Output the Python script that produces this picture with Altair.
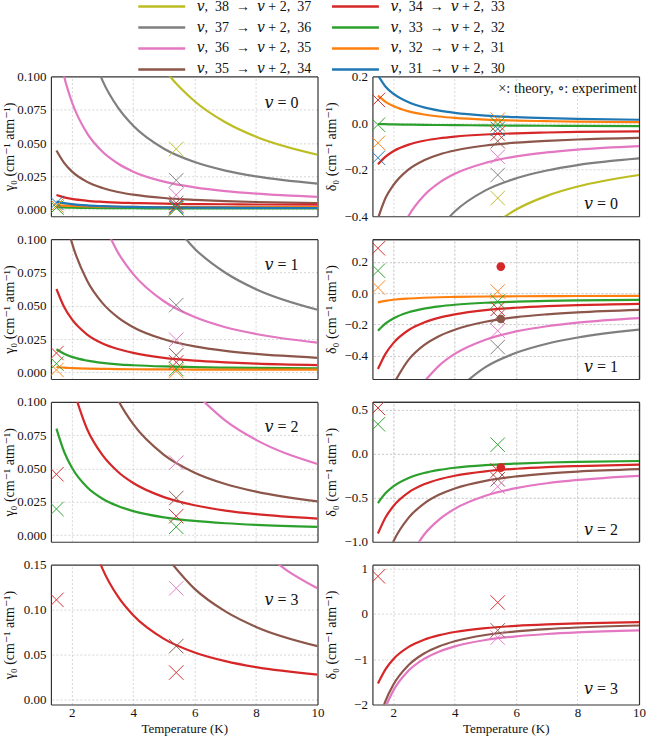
import altair as alt
import pandas as pd

SERIF = "Liberation Serif, DejaVu Serif, Times New Roman, serif"
N = None

# temperature grid (K) on which the curves were read
T_GRID = [1.5, 1.75, 2, 2.5, 3, 3.5, 4, 5, 6, 7, 8, 9, 10]

# transition "v, n -> v+2, n-1" keyed by n
COLORS = {38: "#bcbd22", 37: "#7f7f7f", 36: "#e377c2", 35: "#8c564b",
          34: "#d62728", 33: "#2ca02c", 32: "#ff7f0e", 31: "#1f77b4"}
LEGEND_ORDER = [38, 37, 36, 35, 34, 33, 32, 31]


def lab(n):
    return f"\U0001D463,\u2002{n}\u2002\u2192\u2002\U0001D463 + 2,\u2002{n - 1}"


# ---- gamma_0 curves (cm^-1 atm^-1) ----
GAMMA_V0 = {
    38: [N, N, N, N, N, N, 0.149, 0.106, 0.0814, 0.0656, 0.0547, N, 0.0412],
    37: [N, N, N, 0.1286, 0.0969, 0.0767, 0.0629, 0.0457, 0.0357, 0.0293, 0.0249, N, 0.0195],
    36: [0.128, 0.100, 0.081, 0.0572, 0.0434, 0.0346, 0.0285, 0.0210, 0.0167, 0.0139, 0.0120, N, 0.0096],
    35: [0.0444, 0.0351, 0.0287, 0.0208, 0.0162, 0.0132, 0.0112, 0.0087, 0.0073, 0.0063, 0.0057, N, 0.0049],
    34: [0.0109, 0.0092, 0.0080, 0.0066, 0.0058, 0.0052, 0.0049, 0.0044, 0.0041, 0.0040, 0.0038, N, 0.0037],
    33: [0.0018, 0.0016, 0.0014, 0.0012, 0.0011, 0.0010, 0.0010, 0.0009, 0.0009, 0.0008, 0.0008, N, 0.0008],
    32: [0.0032, 0.0029, 0.0027, 0.0024, 0.0022, 0.0021, 0.0020, 0.0019, 0.0019, 0.0018, 0.0018, N, 0.0018],
    31: [0.0060, 0.0049, 0.0041, 0.0031, 0.0026, 0.0022, 0.0020, 0.0017, 0.0015, 0.0014, 0.0013, N, 0.0012],
}
GAMMA_V1 = {
    37: [N, N, N, N, N, N, N, 0.121, 0.0929, 0.0748, 0.0624, N, 0.047],
    36: [N, N, N, N, 0.114, 0.0901, 0.0738, 0.0534, 0.0415, 0.0339, 0.0288, N, 0.0223],
    35: [N, 0.121, 0.0976, 0.0688, 0.052, 0.0413, 0.0339, 0.0248, 0.0195, 0.0161, 0.0138, N, 0.0109],
    34: [0.0626, 0.0491, 0.0399, 0.0284, 0.0217, 0.0175, 0.0146, 0.0109, 0.0088, 0.0075, 0.0065, N, 0.0054],
    33: [0.0173, 0.0139, 0.0116, 0.0088, 0.0071, 0.0060, 0.0053, 0.0044, 0.0039, 0.0035, 0.0033, N, 0.0030],
    32: [0.0040, 0.0035, 0.0032, 0.0028, 0.0026, 0.0024, 0.0023, 0.0022, 0.0021, 0.0021, 0.0020, N, 0.0020],
}
GAMMA_V2 = {
    36: [N, N, N, N, N, N, N, N, 0.107, 0.086, 0.0715, N, 0.0534],
    35: [N, N, N, N, 0.129, 0.1017, 0.0833, 0.0603, 0.0469, 0.0384, 0.0326, N, 0.0253],
    34: [N, N, 0.113, 0.0795, 0.060, 0.0476, 0.0391, 0.0285, 0.0224, 0.0184, 0.0157, N, 0.0124],
    33: [0.080, 0.0626, 0.0507, 0.0359, 0.0273, 0.0218, 0.0180, 0.0133, 0.0106, 0.0089, 0.0077, N, 0.0062],
}
GAMMA_V3 = {
    36: [N, N, N, N, N, N, N, N, N, N, 0.1705, 0.1438, 0.1238],
    35: [N, N, N, N, N, N, N, 0.162, 0.1232, 0.0982, 0.081, N, 0.0597],
    34: [N, N, N, 0.193, 0.1454, 0.1148, 0.0939, 0.0678, 0.0527, 0.0431, 0.0364, N, 0.0282],
}

# ---- delta_0 curves (cm^-1 atm^-1) ----
DELTA_V0 = {
    38: [N, N, N, N, N, N, N, -0.462, -0.371, -0.3125, -0.2726, N, -0.223],
    37: [N, N, N, N, N, -0.452, -0.380, -0.289, -0.237, -0.2035, -0.1805, N, -0.152],
    36: [N, N, -0.547, -0.398, -0.311, -0.256, -0.218, -0.171, -0.143, -0.126, -0.114, N, -0.099],
    35: [-0.41, -0.321, -0.267, -0.199, -0.160, -0.135, -0.118, -0.0965, -0.084, -0.0762, -0.0707, N, -0.064],
    34: [-0.177, -0.144, -0.121, -0.0925, -0.076, -0.0654, -0.0582, -0.0492, -0.044, -0.0406, -0.0383, N, -0.0355],
    33: [-0.004, -0.005, -0.006, -0.007, -0.008, -0.0085, -0.009, -0.010, -0.011, -0.0115, -0.012, N, -0.013],
    32: [0.118, 0.0912, 0.0728, 0.0499, 0.0366, 0.0281, 0.0223, 0.0150, 0.0108, 0.0081, 0.0063, N, 0.004],
    31: [0.205, 0.156, 0.126, 0.089, 0.0673, 0.0534, 0.0440, 0.0322, 0.0253, 0.0209, 0.0179, N, 0.0142],
}
DELTA_V1 = {
    37: [N, N, N, N, N, N, -0.629, -0.472, -0.381, -0.323, -0.283, N, -0.233],
    36: [N, N, N, N, -0.567, -0.461, -0.388, -0.297, -0.244, -0.211, -0.188, N, -0.159],
    35: [N, N, -0.583, -0.4245, -0.332, -0.273, -0.233, -0.1825, -0.153, -0.135, -0.122, N, -0.106],
    34: [-0.484, -0.386, -0.319, -0.235, -0.187, -0.156, -0.135, -0.108, -0.093, -0.083, -0.076, N, -0.068],
    33: [-0.240, -0.193, -0.1615, -0.1218, -0.0986, -0.0838, -0.0737, -0.0611, -0.0538, -0.0492, -0.046, N, -0.042],
    32: [-0.059, -0.049, -0.042, -0.0339, -0.029, -0.0259, -0.0237, -0.0211, -0.0195, -0.0185, -0.0178, N, -0.017],
}
DELTA_V2 = {
    36: [N, N, N, -1.196, -0.921, -0.746, -0.626, -0.477, -0.3905, -0.335, -0.297, N, -0.25],
    35: [N, -1.22, -1.0, -0.726, -0.566, -0.464, -0.394, -0.307, -0.257, -0.2246, -0.2024, N, -0.175],
    34: [-0.907, -0.722, -0.596, -0.439, -0.347, -0.289, -0.249, -0.199, -0.170, -0.151, -0.139, N, -0.123],
    33: [-0.560, -0.447, -0.370, -0.2745, -0.2186, -0.183, -0.1586, -0.128, -0.1106, -0.099, -0.092, N, -0.082],
}
DELTA_V3 = {
    36: [N, -2.05, -1.694, -1.251, -0.993, -0.828, -0.716, -0.5755, -0.494, -0.442, -0.406, N, -0.362],
    35: [-2.425, -1.913, -1.564, -1.128, -0.874, -0.7125, -0.602, -0.464, -0.384, -0.333, -0.298, N, -0.254],
    34: [-1.536, -1.217, -0.9985, -0.727, -0.568, -0.467, -0.398, -0.312, -0.262, -0.230, -0.208, N, -0.181],
}

# ---- theory points (T, n, value) and experiment points ----
TH_GAMMA_V0 = [(1.5, 31, 0.005), (1.5, 32, 0.003), (1.5, 33, 0.0015),
               (5.4, 38, 0.0455), (5.4, 37, 0.022), (5.4, 36, 0.011), (5.4, 35, 0.005),
               (5.4, 34, 0.003), (5.4, 31, 0.002), (5.4, 32, 0.001), (5.4, 33, 0.001)]
TH_DELTA_V0 = [(1.5, 34, 0.099), (1.5, 33, -0.007), (1.5, 32, -0.085), (1.5, 31, -0.149),
               (5.4, 32, 0.014), (5.4, 33, -0.005), (5.4, 31, -0.025), (5.4, 34, -0.045),
               (5.4, 35, -0.078), (5.4, 36, -0.145), (5.4, 37, -0.223), (5.4, 38, -0.322)]
TH_GAMMA_V1 = [(1.5, 34, 0.0145), (1.5, 33, 0.0065), (1.5, 32, 0.0018),
               (5.4, 37, 0.0505), (5.4, 36, 0.0245), (5.4, 35, 0.0128), (5.4, 34, 0.0075),
               (5.4, 33, 0.0025), (5.4, 32, 0.001)]
TH_DELTA_V1 = [(1.5, 34, 0.287), (1.5, 33, 0.144), (1.5, 32, 0.036),
               (5.4, 32, 0.011), (5.4, 33, -0.053), (5.4, 34, -0.10), (5.4, 35, -0.15),
               (5.4, 36, -0.24), (5.4, 37, -0.344)]
TH_GAMMA_V2 = [(1.5, 34, 0.0457), (1.5, 33, 0.0196),
               (5.4, 36, 0.0544), (5.4, 35, 0.0278), (5.4, 34, 0.0142), (5.4, 33, 0.0062)]
TH_DELTA_V2 = [(1.5, 34, 0.522), (1.5, 33, 0.336),
               (5.4, 33, 0.104), (5.4, 34, -0.19), (5.4, 35, -0.29), (5.4, 36, -0.373)]
TH_GAMMA_V3 = [(1.5, 34, 0.111), (5.4, 36, 0.1238), (5.4, 35, 0.0597), (5.4, 34, 0.0304)]
TH_DELTA_V3 = [(1.5, 34, 0.833), (5.4, 34, 0.254), (5.4, 35, -0.362), (5.4, 36, -0.52)]

EX_DELTA_V1 = [(5.5, 34, 0.17), (5.5, 35, -0.165)]
EX_DELTA_V2 = [(5.5, 34, -0.157)]

X_TICKS = [2, 4, 6, 8, 10]
X_GRID = [2, 4, 6, 8]
X_DOMAIN = [1.32, 10]

color_scale = alt.Scale(domain=[lab(n) for n in LEGEND_ORDER],
                        range=[COLORS[n] for n in LEGEND_ORDER])

LEGEND = alt.Legend(orient="none", legendX=86, legendY=-76, columns=2, title=None,
                    symbolType="stroke", symbolSize=2209, symbolStrokeWidth=2.5,
                    labelFont=SERIF, labelFontSize=14, labelOffset=10,
                    columnPadding=19, rowPadding=7, clipHeight=12, padding=0,
                    labelLimit=400, labelColor="#111")

XPATH = "M-1,-1L1,1M-1,1L1,-1"
GAMMA_TITLE = "\u03b3\u2080 (cm\u207b\u00b9 atm\u207b\u00b9)"
DELTA_TITLE = "\u03b4\u2080 (cm\u207b\u00b9 atm\u207b\u00b9)"
FRAME = "#333333"


def curve_df(curves):
    rows = []
    for n, vals in curves.items():
        for t, v in zip(T_GRID, vals):
            if v is not None:
                rows.append({"T": t, "value": v, "label": lab(n)})
    return pd.DataFrame(rows)


def point_df(points):
    return pd.DataFrame([{"T": t, "value": v, "label": lab(n)} for t, n, v in points])


W, H = 267, 140


def panel(curves, theory, ydom, yticks, ygrid, yfmt, ytitle, vtext, vx, vy,
          bottom, expt=None, note=False):
    xs = alt.Scale(domain=X_DOMAIN, nice=False, zero=False)
    ys = alt.Scale(domain=ydom, nice=False, zero=False)
    frame = dict(domain=True, domainColor=FRAME, domainWidth=1.2)
    # labelled axes (left / bottom), no grid; their domains draw half of the frame
    if bottom:
        xaxis = alt.Axis(values=X_TICKS, format="d", title="Temperature (K)",
                         labelPadding=2, titleY=24, titleBaseline="middle",
                         titleFontSize=13, labelFlush=False, labelOverlap=False,
                         grid=False, **frame)
    else:
        xaxis = alt.Axis(values=X_TICKS, labels=False, title=None, grid=False, **frame)
    yaxis = alt.Axis(values=yticks, format=yfmt, title=ytitle, titleX=-41,
                     titleBaseline="middle", labelFlush=False, labelOverlap=False,
                     grid=False, **frame)
    # grid axes (top / right): interior grid lines and the other half of the frame
    xgax = alt.Axis(orient="top", values=X_GRID, labels=False, title=None, grid=True,
                    ticks=False, **frame)
    ygax = alt.Axis(orient="right", values=ygrid, labels=False, title=None, grid=True,
                    ticks=False, **frame)

    layers = [
        alt.Chart(curve_df(curves)).mark_line(
            interpolate="monotone", strokeWidth=2.2, clip=True
        ).encode(x=alt.X("T:Q", scale=xs, axis=xaxis),
                 y=alt.Y("value:Q", scale=ys, axis=yaxis),
                 color=alt.Color("label:N", scale=color_scale, legend=LEGEND)),
        alt.Chart(point_df(theory)).mark_point(
            shape=XPATH, size=210, filled=False, strokeWidth=1, opacity=0.95, clip=True
        ).encode(x=alt.X("T:Q", scale=xs, axis=xgax),
                 y=alt.Y("value:Q", scale=ys, axis=ygax),
                 color=alt.Color("label:N", scale=color_scale, legend=None)),
    ]
    if expt:
        layers.append(
            alt.Chart(point_df(expt)).mark_circle(size=75, opacity=1, clip=True).encode(
                x=alt.X("T:Q", scale=xs, axis=xgax),
                y=alt.Y("value:Q", scale=ys, axis=ygax),
                color=alt.Color("label:N", scale=color_scale, legend=None))
        )
    layers.append(
        alt.Chart(pd.DataFrame({"t": [vtext]})).mark_text(
            align="right", baseline="middle", font=SERIF, fontSize=16, color="#111"
        ).encode(x=alt.value(vx), y=alt.value(vy), text="t:N")
    )
    if note:
        layers.append(
            alt.Chart(pd.DataFrame({"t": ["\u00d7: theory, \u2218: experiment"]})).mark_text(
                align="right", baseline="middle", font=SERIF, fontSize=14.5, color="#111"
            ).encode(x=alt.value(265), y=alt.value(13), text="t:N")
        )
    return alt.layer(*layers).resolve_axis(x="independent", y="independent").properties(
        width=W, height=H)


G_TICKS = [0, 0.025, 0.05, 0.075, 0.1]
G_GRID = [0, 0.025, 0.05, 0.075]
G_DOM = [-0.005, 0.1]

panels = [
    panel(GAMMA_V0, TH_GAMMA_V0, G_DOM, G_TICKS, G_GRID, ".3f", GAMMA_TITLE,
          "\U0001D463 = 0", 248, 27, False),
    panel(DELTA_V0, TH_DELTA_V0, [-0.4, 0.2], [-0.4, -0.2, 0, 0.2], [-0.2, 0], ".1f", DELTA_TITLE,
          "\U0001D463 = 0", 246, 128, False, note=True),
    panel(GAMMA_V1, TH_GAMMA_V1, G_DOM, G_TICKS, G_GRID, ".3f", GAMMA_TITLE,
          "\U0001D463 = 1", 248, 26, False),
    panel(DELTA_V1, TH_DELTA_V1, [-0.548, 0.345], [-0.4, -0.2, 0, 0.2], [-0.4, -0.2, 0, 0.2], ".1f",
          DELTA_TITLE, "\U0001D463 = 1", 246, 128, False, expt=EX_DELTA_V1),
    panel(GAMMA_V2, TH_GAMMA_V2, G_DOM, G_TICKS, G_GRID, ".3f", GAMMA_TITLE,
          "\U0001D463 = 2", 248, 25, False),
    panel(DELTA_V2, TH_DELTA_V2, [-1.0, 0.59], [-1.0, -0.5, 0, 0.5], [-0.5, 0, 0.5], ".1f",
          DELTA_TITLE, "\U0001D463 = 2", 246, 128, False, expt=EX_DELTA_V2),
    panel(GAMMA_V3, TH_GAMMA_V3, [-0.005, 0.15], [0, 0.05, 0.1, 0.15], [0, 0.05, 0.1], ".2f",
          GAMMA_TITLE, "\U0001D463 = 3", 248, 35, True),
    panel(DELTA_V3, TH_DELTA_V3, [-2.0, 1.09], [-2, -1, 0, 1], [-1, 0, 1], "d", DELTA_TITLE,
          "\U0001D463 = 3", 246, 125, True),
]

chart = alt.concat(*panels, columns=2, spacing={"row": 23, "column": 55}, bounds="flush").properties(
    padding={"left": 2, "top": 0, "right": 0, "bottom": 0},
    background="white",
).configure_axis(
    labelFont=SERIF, titleFont=SERIF, labelFontSize=13, titleFontSize=14,
    titleFontWeight="normal", labelColor="#111", titleColor="#111",
    ticks=False, labelPadding=5,
    gridColor="#cccccc", gridDash=[2, 2], gridWidth=0.8,
).configure_view(stroke=None)

chart.save("out.html", embed_options={"renderer": "svg", "actions": False})
